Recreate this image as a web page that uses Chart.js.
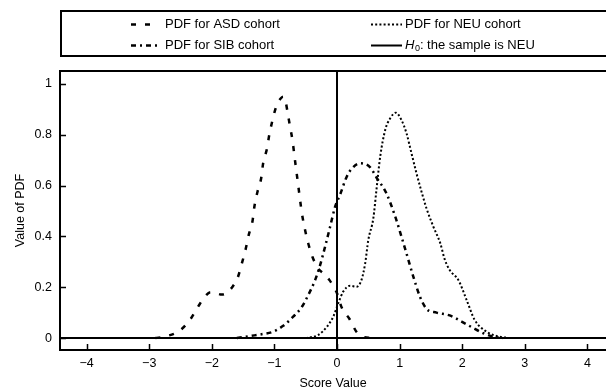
<!DOCTYPE html>
<html>
<head>
<meta charset="utf-8">
<script src="https://cdn.jsdelivr.net/npm/chart.js@4"></script>
<style>
  body { margin: 0; background: #fff; }
  canvas { display: block; }
</style>
</head>
<body>
<canvas id="pdfChart" width="606" height="391"></canvas>
<script>
// score values and PDF heights
const asdX = [-2.9, -2.75, -2.52, -2.35, -2.23, -2.11, -2.02, -1.93, -1.84, -1.75, -1.66, -1.59, -1.52, -1.46, -1.41, -1.35, -1.32, -1.27, -1.21, -1.18, -1.12, -1.08, -1.03, -0.97, -0.9, -0.86, -0.82, -0.79, -0.75, -0.71, -0.68, -0.65, -0.62, -0.56, -0.51, -0.46, -0.39, -0.3, -0.2, -0.12, -0.05, 0, 0.075, 0.2, 0.31, 0.42, 0.55];
const asdY = [0, 0.006, 0.028, 0.071, 0.119, 0.163, 0.18, 0.176, 0.171, 0.18, 0.205, 0.235, 0.294, 0.349, 0.406, 0.46, 0.517, 0.576, 0.631, 0.688, 0.744, 0.802, 0.858, 0.912, 0.943, 0.95, 0.93, 0.889, 0.832, 0.776, 0.717, 0.659, 0.602, 0.49, 0.425, 0.373, 0.318, 0.274, 0.25, 0.228, 0.2, 0.176, 0.12, 0.075, 0.025, 0.005, 0];

const neuX = [-0.5, -0.3, -0.16, -0.06, 0.02, 0.1, 0.21, 0.31, 0.39, 0.45, 0.5, 0.58, 0.63, 0.69, 0.77, 0.85, 0.94, 1.03, 1.11, 1.19, 1.27, 1.35, 1.43, 1.54, 1.65, 1.72, 1.8, 1.94, 2.07, 2.2, 2.39, 2.55, 2.75];
const neuY = [0, 0.012, 0.045, 0.084, 0.137, 0.183, 0.206, 0.202, 0.228, 0.294, 0.386, 0.471, 0.583, 0.714, 0.819, 0.865, 0.887, 0.858, 0.806, 0.727, 0.648, 0.576, 0.51, 0.438, 0.373, 0.31, 0.268, 0.228, 0.15, 0.071, 0.025, 0.008, 0];

const sibX = [-1.6, -1.39, -1.18, -1.02, -0.86, -0.7, -0.56, -0.46, -0.35, -0.27, -0.19, -0.11, -0.03, 0.05, 0.15, 0.23, 0.37, 0.53, 0.63, 0.79, 0.93, 1.03, 1.11, 1.22, 1.33, 1.43, 1.59, 1.8, 1.99, 2.18, 2.34, 2.5, 2.65];
const sibY = [0, 0.008, 0.016, 0.025, 0.048, 0.084, 0.123, 0.169, 0.228, 0.287, 0.36, 0.438, 0.517, 0.565, 0.632, 0.665, 0.688, 0.672, 0.632, 0.569, 0.478, 0.399, 0.333, 0.241, 0.16, 0.115, 0.1, 0.089, 0.065, 0.039, 0.019, 0.005, 0];

const h0X = 0;
const xTicks = [-4, -3, -2, -1, 0, 1, 2, 3, 4];
const yTicks = [0, 0.2, 0.4, 0.6, 0.8, 1];
const xRange = [-4.425, 4.297];
const yRange = [-0.047, 1.051];

const labels = ["PDF for ASD cohort", "PDF for NEU cohort", "PDF for SIB cohort", "H0: the sample is NEU"];

const FONT = "'Liberation Sans', Arial, sans-serif";
const pts = (xs, ys) => xs.map((x, i) => ({ x: x, y: ys[i] }));

const curve = (label, data, dash, width) => ({
  label: label,
  data: data,
  borderColor: "#000",
  borderWidth: width,
  borderDash: dash,
  pointRadius: 0,
  fill: false,
  cubicInterpolationMode: "monotone"
});

// box, inward ticks and the boxed legend
const frame = {
  id: "frame",
  afterDatasetsDraw(chart) {
    const ctx = chart.ctx;
    const a = chart.chartArea;
    const xs = chart.scales.x, ys = chart.scales.y;
    ctx.save();
    ctx.strokeStyle = "#000";
    ctx.lineWidth = 2;
    ctx.setLineDash([]);
    ctx.strokeRect(a.left, a.top, 700, a.bottom - a.top);

    ctx.lineWidth = 1.5;
    ctx.beginPath();
    yTicks.forEach(v => {
      const py = Math.round(ys.getPixelForValue(v)) + 0.5;
      ctx.moveTo(a.left, py);
      ctx.lineTo(a.left + 6, py);
    });
    xTicks.forEach(v => {
      const px = Math.round(xs.getPixelForValue(v)) + 0.5;
      ctx.moveTo(px, a.bottom);
      ctx.lineTo(px, a.bottom - 6);
    });
    ctx.stroke();

    // legend
    ctx.lineWidth = 2;
    ctx.strokeRect(61, 11, 700, 45);
    const slots = [
      { ds: 0, x0: 131, x1: 152, tx: 165, y: 24.5 },
      { ds: 2, x0: 131, x1: 159, tx: 165, y: 45.5 },
      { ds: 1, x0: 371, x1: 402, tx: 405, y: 24.5 },
      { ds: 3, x0: 371, x1: 402, tx: 405, y: 45.5 }
    ];
    ctx.fillStyle = "#000";
    ctx.textBaseline = "middle";
    ctx.textAlign = "left";
    slots.forEach(s => {
      const d = chart.data.datasets[s.ds];
      ctx.lineWidth = d.borderWidth;
      ctx.setLineDash(d.borderDash || []);
      ctx.beginPath();
      ctx.moveTo(s.x0, s.y);
      ctx.lineTo(s.x1, s.y);
      ctx.stroke();
      ctx.setLineDash([]);
      if (s.ds === 3) {
        // H with subscript 0
        ctx.font = "italic 13px " + FONT;
        ctx.fillText("H", s.tx, s.y);
        let x = s.tx + ctx.measureText("H").width + 0.5;
        ctx.font = "9px " + FONT;
        ctx.fillText("0", x, s.y + 3.5);
        x += ctx.measureText("0").width;
        ctx.font = "13px " + FONT;
        ctx.fillText(d.label.slice(2), x, s.y);
      } else {
        ctx.font = "13px " + FONT;
        ctx.fillText(d.label, s.tx, s.y);
      }
    });
    ctx.restore();
  }
};

const tickFont = { family: FONT, size: 12.5 };

new Chart(document.getElementById("pdfChart"), {
  type: "line",
  data: {
    datasets: [
      curve(labels[0], pts(asdX, asdY), [5, 9], 2.5),
      curve(labels[1], pts(neuX, neuY), [2, 2.2], 2),
      curve(labels[2], pts(sibX, sibY), [5, 4, 2, 4], 2.5),
      curve(labels[3], [{ x: h0X, y: yRange[0] }, { x: h0X, y: yRange[1] }], [], 2),
      {
        label: "",
        data: [{ x: xRange[0], y: 0 }, { x: xRange[1], y: 0 }],
        borderColor: "#000",
        borderWidth: 2,
        pointRadius: 0,
        fill: false
      }
    ]
  },
  options: {
    responsive: false,
    animation: false,
    devicePixelRatio: 1,
    layout: { padding: { top: 71, left: 0, right: 0, bottom: 0 } },
    plugins: {
      legend: { display: false },
      tooltip: { enabled: false }
    },
    scales: {
      x: {
        type: "linear",
        min: xRange[0],
        max: xRange[1],
        grid: { display: false, drawTicks: false },
        border: { display: false },
        afterBuildTicks: s => { s.ticks = xTicks.map(v => ({ value: v })); },
        afterFit: s => { s.height = 41; },
        ticks: {
          padding: 6,
          color: "#000",
          font: tickFont,
          maxRotation: 0,
          autoSkip: false,
          callback: v => (v < 0 ? "\u2212" + (-v) : String(v))
        },
        title: { display: true, text: "Score Value", color: "#000", font: tickFont, padding: 0 }
      },
      y: {
        min: yRange[0],
        max: yRange[1],
        grid: { display: false, drawTicks: false },
        border: { display: false },
        afterBuildTicks: s => { s.ticks = yTicks.map(v => ({ value: v })); },
        afterFit: s => { s.width = 60; },
        ticks: {
          padding: 8,
          color: "#000",
          font: tickFont,
          callback: v => String(Math.round(v * 10) / 10)
        },
        title: { display: true, text: "Value of PDF", color: "#000", font: tickFont, padding: { top: 13, bottom: 0 } }
      }
    }
  },
  plugins: [frame]
});
</script>
</body>
</html>
